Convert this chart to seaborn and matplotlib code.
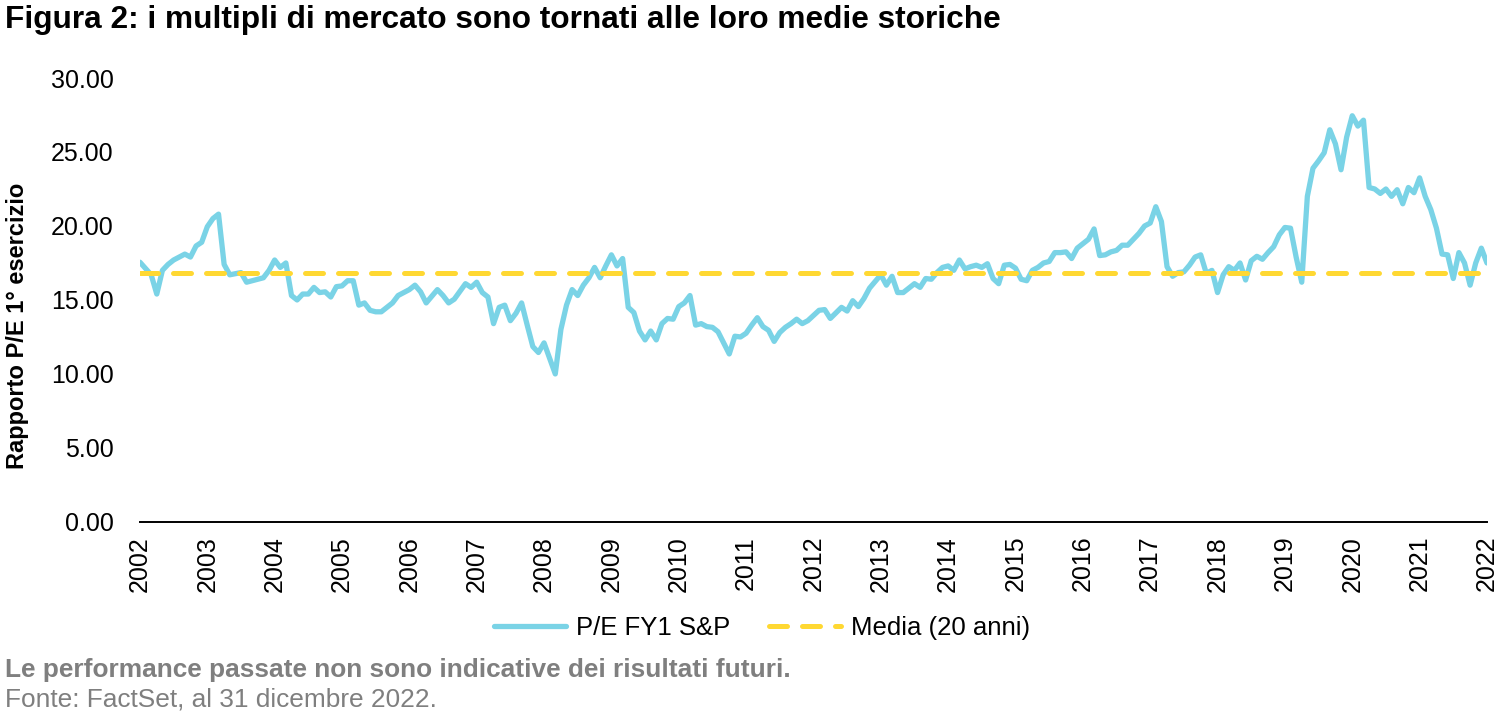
import matplotlib
matplotlib.use("Agg")
import matplotlib.pyplot as plt
import seaborn as sns
import pandas as pd

# monthly offsets from Jan 2002 and forward P/E
months = [0, 2, 3, 4, 5, 6, 8, 9, 10, 11, 12, 13, 14, 15, 16, 18, 19, 20, 22, 23,
          24, 25, 26, 27, 28, 29, 30, 31, 32, 33, 34, 35, 36, 37, 38, 39, 40, 41, 42, 43,
          45, 46, 48, 49, 50, 51, 53, 54, 55, 56, 58, 59, 60, 61, 62, 63, 64, 65, 66, 67,
          68, 69, 70, 71, 72, 73, 74, 75, 76, 77, 78, 79, 80, 81, 82, 83, 84, 85, 86, 87,
          88, 89, 90, 91, 92, 93, 94, 95, 96, 97, 98, 99, 100, 101, 102, 103, 104, 105, 106, 107,
          108, 109, 110, 111, 112, 113, 114, 115, 116, 117, 118, 119, 121, 122, 123, 125, 126, 127, 128, 129,
          130, 131, 132, 133, 134, 135, 136, 137, 138, 139, 140, 141, 142, 143, 144, 145, 146, 147, 148, 149,
          150, 151, 152, 153, 154, 155, 156, 157, 158, 159, 160, 161, 162, 163, 164, 165, 166, 167, 168, 169,
          170, 171, 172, 173, 174, 175, 176, 177, 178, 179, 180, 181, 182, 183, 184, 185, 186, 187, 188, 189,
          190, 191, 192, 193, 194, 195, 196, 197, 198, 199, 200, 201, 202, 203, 204, 205, 206, 207, 208, 209,
          210, 211, 212, 213, 214, 215, 216, 217, 218, 219, 220, 221, 222, 223, 224, 225, 226, 227, 228, 229,
          230, 231, 232, 233, 234, 235, 236, 237, 238, 239, 240]
pe_fy1 = [17.55, 16.7, 15.4, 17.0, 17.4, 17.7, 18.1, 17.9, 18.65, 18.9, 19.95, 20.5, 20.8, 17.4, 16.7, 16.85, 16.2, 16.3, 16.5, 17.0,
          17.7, 17.2, 17.5, 15.3, 15.0, 15.4, 15.4, 15.85, 15.5, 15.55, 15.2, 15.9, 15.95, 16.3, 16.3, 14.65, 14.8, 14.3, 14.2, 14.2,
          14.8, 15.3, 15.7, 16.0, 15.55, 14.8, 15.7, 15.3, 14.8, 15.05, 16.1, 15.85, 16.2, 15.5, 15.2, 13.4, 14.5, 14.65, 13.6, 14.1,
          14.8, 13.3, 11.85, 11.45, 12.1, 11.05, 10.0, 13.0, 14.65, 15.7, 15.3, 16.0, 16.5, 17.2, 16.5, 17.3, 18.05, 17.3, 17.8, 14.5,
          14.15, 12.9, 12.3, 12.9, 12.3, 13.4, 13.75, 13.7, 14.55, 14.8, 15.3, 13.3, 13.4, 13.2, 13.15, 12.85, 12.1, 11.35, 12.55, 12.5,
          12.75, 13.3, 13.8, 13.2, 12.95, 12.2, 12.8, 13.15, 13.4, 13.7, 13.4, 13.6, 14.3, 14.35, 13.75, 14.5, 14.25, 14.95, 14.55, 15.1,
          15.8, 16.25, 16.7, 16.0, 16.6, 15.5, 15.5, 15.8, 16.1, 15.85, 16.45, 16.4, 16.85, 17.2, 17.3, 17.0, 17.7, 17.1, 17.25, 17.35,
          17.2, 17.45, 16.45, 16.1, 17.35, 17.4, 17.15, 16.4, 16.3, 17.0, 17.2, 17.5, 17.6, 18.2, 18.2, 18.25, 17.8, 18.5, 18.8, 19.1,
          19.8, 18.0, 18.05, 18.25, 18.35, 18.7, 18.7, 19.1, 19.5, 20.0, 20.2, 21.3, 20.3, 17.25, 16.6, 16.85, 16.9, 17.35, 17.9, 18.05,
          16.8, 17.0, 15.5, 16.7, 17.25, 17.0, 17.5, 16.35, 17.65, 17.95, 17.75, 18.2, 18.6, 19.4, 19.9, 19.85, 17.9, 16.2, 22.0, 23.9,
          24.4, 24.95, 26.5, 25.55, 23.8, 26.0, 27.45, 26.75, 27.15, 22.6, 22.5, 22.2, 22.5, 22.0, 22.45, 21.5, 22.6, 22.25, 23.25, 22.0,
          21.1, 19.85, 18.1, 18.05, 16.45, 18.2, 17.5, 16.0, 17.5, 18.5, 17.5]
mean_20y = 16.8
years = list(range(2002, 2023))
y_ticks = [0, 5, 10, 15, 20, 25, 30]

CYAN = "#7AD3E6"
YELLOW = "#FFD832"
GREY = "#7F7F7F"

sns.set_theme(style="white")
plt.rcParams["font.family"] = ["Liberation Sans", "DejaVu Sans"]
plt.rcParams["text.color"] = "black"
plt.rcParams["axes.labelcolor"] = "black"
plt.rcParams["xtick.color"] = "black"
plt.rcParams["ytick.color"] = "black"

df = pd.DataFrame({"year": [2002 + m / 12 for m in months], "pe": pe_fy1})

fig = plt.figure(figsize=(15, 7.13), dpi=100)
ax = fig.add_axes([0.0933, 0.268, 0.8980, 0.6226])

sns.lineplot(data=df, x="year", y="pe", ax=ax, color=CYAN, linewidth=3.8,
             label="P/E FY1 S&P", legend=False)
ax.axhline(mean_20y, color=YELLOW, linewidth=3.6, dashes=(3.6, 3.0),
           dash_capstyle="round", label="Media (20 anni)")

ax.set_xlim(years[0], years[-1])
ax.set_ylim(0, 30)
ax.set_xticks(years)
ax.set_xticklabels([str(y) for y in years], rotation=90, fontsize=18)
ax.set_yticks(y_ticks)
ax.set_yticklabels([f"{v:.2f}" for v in y_ticks], fontsize=18)
ax.tick_params(axis="x", length=0, pad=10)
ax.tick_params(axis="y", length=0, pad=19)
ax.set_xlabel("")
ax.set_ylabel("Rapporto P/E 1° esercizio", fontsize=17, fontweight="bold")
ax.yaxis.set_label_coords(-0.082, 0.441)
ax.grid(False)
for side in ["left", "top", "right"]:
    ax.spines[side].set_visible(False)
ax.spines["bottom"].set_color("black")
ax.spines["bottom"].set_linewidth(1.4)

handles, labels = ax.get_legend_handles_labels()
fig.legend(handles, labels, loc="center", bbox_to_anchor=(0.508, 0.119), ncol=2,
           frameon=False, fontsize=18.5, handlelength=2.8, handletextpad=0.4,
           columnspacing=1.5)

fig.text(0.0035, 0.9607, "Figura 2: i multipli di mercato sono tornati alle loro medie storiche",
         fontsize=22.8, fontweight="bold", va="baseline", ha="left")
fig.text(0.0035, 0.0505, "Le performance passate non sono indicative dei risultati futuri.",
         fontsize=18.9, fontweight="bold", color=GREY, va="baseline", ha="left")
fig.text(0.0035, 0.0098, "Fonte: FactSet, al 31 dicembre 2022.",
         fontsize=18.9, color=GREY, va="baseline", ha="left")

fig.savefig("out.png", dpi=100)
